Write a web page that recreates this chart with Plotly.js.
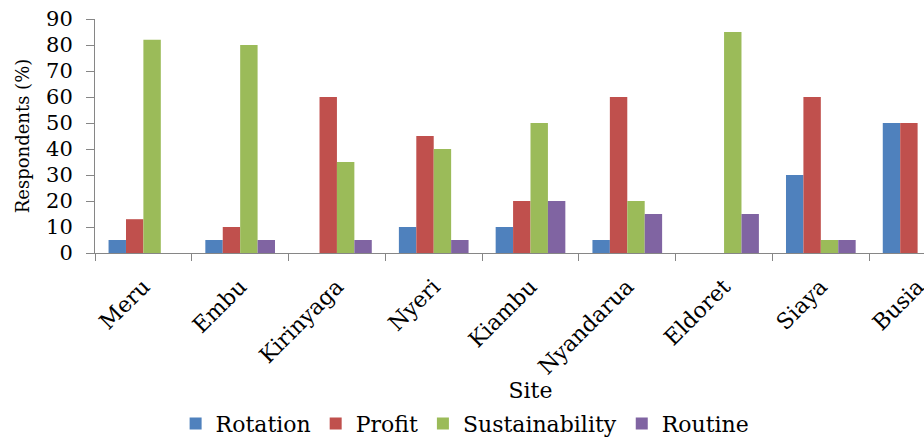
<!DOCTYPE html>
<html>
<head>
<meta charset="utf-8">
<script src="https://cdn.plot.ly/plotly-3.0.1.min.js"></script>
<style>
  html, body { margin: 0; padding: 0; overflow: hidden; background: #fff; }
  #chart { width: 970px; height: 439px; }
</style>
</head>
<body>
<div id="chart"></div>
<script>
const sites = ["Meru", "Embu", "Kirinyaga", "Nyeri", "Kiambu", "Nyandarua", "Eldoret", "Siaya", "Busia"];
const rotation = [5, 5, 0, 10, 10, 5, 0, 30, 50];
const profit = [13, 10, 60, 45, 20, 60, 0, 60, 50];
const sustainability = [82, 80, 35, 40, 50, 20, 85, 5, 0];
const routine = [0, 5, 5, 5, 20, 15, 15, 5, 0];
const yTicks = [0, 10, 20, 30, 40, 50, 60, 70, 80, 90];

const seriesNames = ["Rotation", "Profit", "Sustainability", "Routine"];
const seriesValues = [rotation, profit, sustainability, routine];
const colors = ["#4F81BD", "#C0504D", "#9BBB59", "#8064A2"];

const FONT = "DejaVu Serif";

const data = seriesNames.map((name, i) => ({
  type: "bar",
  name: name,
  x: sites,
  y: seriesValues[i],
  marker: { color: colors[i], line: { width: 0 } },
  hoverinfo: "x+y+name"
}));

const layout = {
  width: 970,
  height: 439,
  margin: { l: 95, r: 4, t: 19, b: 186 },
  paper_bgcolor: "#ffffff",
  plot_bgcolor: "#ffffff",
  font: { family: FONT, color: "#000000", size: 22 },
  barmode: "group",
  bargap: 0.28,
  bargroupgap: 0,
  showlegend: true,
  legend: {
    orientation: "h",
    xref: "container",
    yref: "container",
    x: 0.4795,
    xanchor: "center",
    y: 0.035,
    yanchor: "middle",
    font: { family: FONT, size: 22, color: "#000" },
    itemwidth: 30,
    tracegroupgap: 0
  },
  xaxis: {
    type: "category",
    range: [-0.5, 8.5],
    showline: true,
    linecolor: "#868686",
    linewidth: 1,
    ticks: "outside",
    tickson: "boundaries",
    ticklen: 7,
    tickcolor: "#868686",
    tickangle: -45,
    ticklabelstandoff: 11,
    tickfont: { family: FONT, size: 22, color: "#000" },
    showgrid: false,
    zeroline: false,
    title: { text: "Site", font: { family: FONT, size: 22, color: "#000" }, standoff: 4 }
  },
  yaxis: {
    range: [0, 90],
    tickvals: yTicks,
    ticktext: yTicks.map(String),
    showline: true,
    linecolor: "#868686",
    linewidth: 1,
    ticks: "outside",
    ticklen: 8,
    tickcolor: "#868686",
    ticklabelstandoff: 9,
    tickfont: { family: FONT, size: 21, color: "#000" },
    showgrid: false,
    zeroline: false,
    title: { text: "Respondents (%)", font: { family: FONT, size: 18, color: "#000" }, standoff: 11 }
  }
};

Plotly.newPlot("chart", data, layout, { displayModeBar: false, staticPlot: true });
</script>
</body>
</html>
